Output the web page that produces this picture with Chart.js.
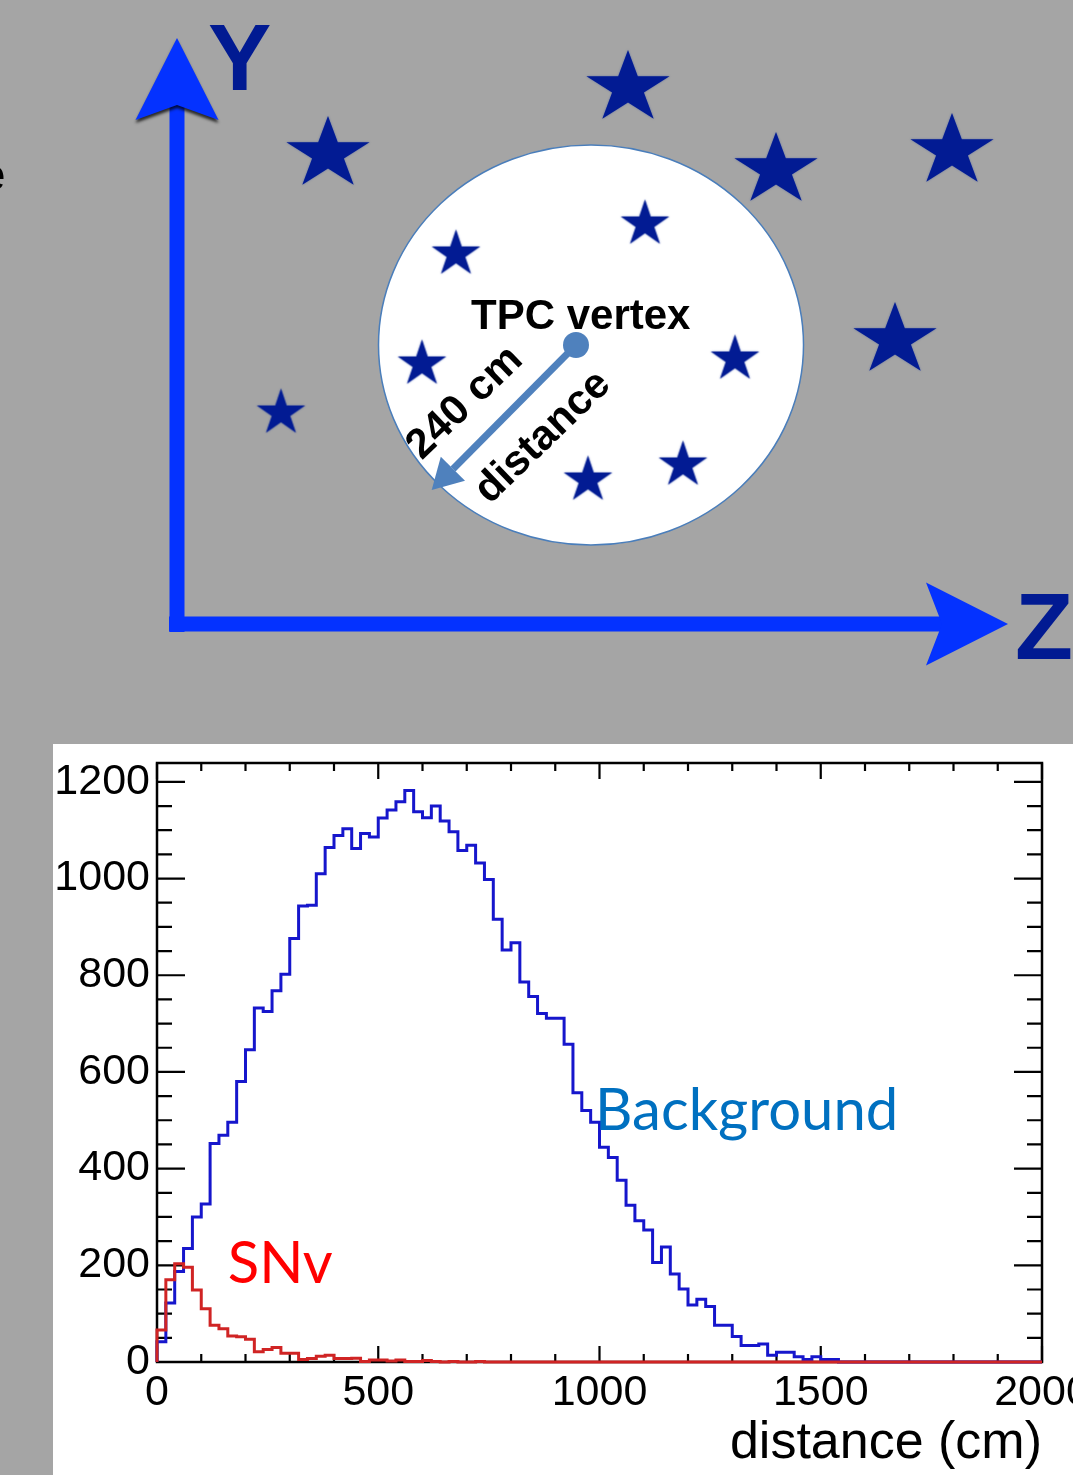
<!DOCTYPE html>
<html>
<head>
<meta charset="utf-8">
<script src="https://cdn.jsdelivr.net/npm/chart.js@4/dist/chart.umd.min.js"></script>
<style>
  html, body { margin: 0; padding: 0; width: 1073px; height: 1475px; overflow: hidden; background: #a5a5a5; }
  #diagramWrap { position: absolute; left: 0; top: 0; width: 1073px; height: 744px; }
  #histWrap { position: absolute; left: 53px; top: 744px; width: 1100px; height: 731px; background: #ffffff; }
  canvas { display: block; }
</style>
</head>
<body>
<div id="diagramWrap"><canvas id="diagram" width="1073" height="744"></canvas></div>
<div id="histWrap"><canvas id="hist" width="1100" height="731"></canvas></div>
<script>
// ================= DATA =================
// --- Histogram (bottom panel): counts per 20 cm distance bin, 0..2000 cm ---
const binWidthCm = 20;
const xTickValues = [0, 500, 1000, 1500, 2000];
const yTickValues = [0, 200, 400, 600, 800, 1000, 1200];
const backgroundCounts = [
  42, 122, 187, 235, 300, 327, 452, 469, 496, 580,
  646, 732, 725, 768, 802, 876, 943, 945, 1010, 1064,
  1089, 1103, 1062, 1093, 1086, 1125, 1142, 1159, 1182, 1138,
  1126, 1150, 1119, 1097, 1058, 1069, 1032, 998, 916, 852,
  867, 786, 756, 721, 711, 711, 657, 557, 520, 496,
  444, 423, 376, 324, 292, 273, 206, 238, 182, 151,
  118, 130, 115, 76, 76, 53, 34, 34, 37, 14,
  20, 20, 11, 5, 11, 5, 5, 0, 0, 0,
  0, 0, 0, 0, 0, 0, 0, 0, 0, 0,
  0, 0, 0, 0, 0, 0, 0, 0, 0, 0
];
const snvCounts = [
  66, 170, 203, 196, 149, 110, 76, 69, 54, 52,
  47, 21, 26, 30, 18, 18, 5, 7, 12, 14,
  7, 7, 8, 1, 4, 4, 2, 4, 1, 1,
  3, 1, 0, 1, 0, 0, 1, 0, 0, 0,
  0, 0, 0, 0, 0, 0, 0, 0, 0, 0,
  0, 0, 0, 0, 0, 0, 0, 0, 0, 0,
  0, 0, 0, 0, 0, 0, 0, 0, 0, 0,
  0, 0, 0, 0, 0, 0, 0, 0, 0, 0,
  0, 0, 0, 0, 0, 0, 0, 0, 0, 0,
  0, 0, 0, 0, 0, 0, 0, 0, 0, 0
];
const seriesNames = ['SNv', 'Background'];
const xAxisTitle = 'distance (cm)';

// --- Diagram (top panel), in the diagram's own Z / Y coordinates ---
const starZ = [451, 151, 599, 775, 718, 104, 279, 468, 245, 558, 411, 506];
const starY = [536, 470, 454, 473, 284, 211, 370, 400, 260, 265, 144, 159];
const starMagnitude = [2, 2, 2, 2, 2, 1, 1, 1, 1, 1, 1, 1];
const vertexZ = 399, vertexY = 279;
const distanceZ = [399, 276];
const distanceY = [279, 155];
const yAxisZ = [0, 0], yAxisY = [-8, 519];
const zAxisZ = [-8, 765], zAxisY = [0, 0];
const diagramLabels = ['Y', 'Z', 'TPC vertex', '240 cm', 'distance'];

// ================= STYLE HELPERS =================
Chart.defaults.font.family = "'Liberation Sans', Arial, sans-serif";
const axisBlue = '#0432ff';
const starNavy = '#021b93';
const steelBlue = '#4f81bd';

function makeStar(R, sx) {
  const w = Math.ceil(2 * R * sx + 8), h = Math.ceil(2 * R + 8);
  const c = document.createElement('canvas');
  c.width = w; c.height = h;
  const g = c.getContext('2d');
  g.translate(w / 2, h / 2);
  g.beginPath();
  for (let i = 0; i < 10; i++) {
    const r = i % 2 === 0 ? R : R * 0.382;
    const a = -Math.PI / 2 + i * Math.PI / 5;
    g.lineTo(Math.cos(a) * r * sx, Math.sin(a) * r);
  }
  g.closePath();
  g.shadowColor = 'rgba(40,70,160,0.6)';
  g.shadowBlur = 2;
  g.fillStyle = starNavy;
  g.fill();
  return c;
}
const bigStar = makeStar(38, 1.15);
const smallStar = makeStar(24.5, 1.04);

function pts(zs, ys) { return zs.map((z, i) => ({ x: z, y: ys[i] })); }

// ================= DIAGRAM CHART =================
const diagramPlugin = {
  id: 'diagramDecor',
  beforeDatasetsDraw(chart) {
    const { ctx, scales: { x, y } } = chart;
    const cx = x.getPixelForValue(414), cy = y.getPixelForValue(279);
    const rx = x.getPixelForValue(414 + 212.5) - cx;
    const ry = cy - y.getPixelForValue(279 + 200);
    ctx.save();
    ctx.beginPath();
    ctx.ellipse(cx, cy, rx, ry, 0, 0, Math.PI * 2);
    ctx.fillStyle = '#ffffff';
    ctx.fill();
    ctx.lineWidth = 1.5;
    ctx.strokeStyle = '#4a7ebb';
    ctx.stroke();
    ctx.restore();
  },
  afterDatasetsDraw(chart) {
    const { ctx, scales: { x, y } } = chart;
    const P = (z, v) => [x.getPixelForValue(z), y.getPixelForValue(v)];
    function poly(list, color, shadow) {
      ctx.save();
      if (shadow) {
        ctx.shadowColor = 'rgba(0,0,0,0.75)';
        ctx.shadowBlur = 3;
        ctx.shadowOffsetY = 3;
      }
      ctx.beginPath();
      list.forEach(([z, v], i) => { const [px, py] = P(z, v); i ? ctx.lineTo(px, py) : ctx.moveTo(px, py); });
      ctx.closePath();
      ctx.fillStyle = color;
      ctx.fill();
      ctx.restore();
    }
    // Y arrowhead
    poly([[0, 586], [41.5, 504], [0, 519], [-41.5, 504]], axisBlue, true);
    // Z arrowhead
    poly([[831, 0], [749, 41.5], [765, 0], [749, -41.5]], axisBlue, false);
    // distance arrowhead
    poly([[254.7, 134], [288, 143.3], [263.8, 167.3]], steelBlue, false);

    ctx.save();
    ctx.textBaseline = 'alphabetic';
    ctx.textAlign = 'left';
    ctx.fillStyle = '#011a92';
    ctx.font = "bold 95px 'Liberation Sans', Arial, sans-serif";
    let p = P(31, 534); ctx.fillText(diagramLabels[0], p[0], p[1]);
    p = P(838, -35); ctx.fillText(diagramLabels[1], p[0], p[1]);
    ctx.fillStyle = '#000000';
    ctx.font = "bold 42px 'Liberation Sans', Arial, sans-serif";
    p = P(294, 295); ctx.fillText(diagramLabels[2], p[0], p[1]);
    ctx.textAlign = 'center';
    ctx.textBaseline = 'middle';
    p = P(288, 221);
    ctx.save(); ctx.translate(p[0], p[1]); ctx.rotate(-44 * Math.PI / 180); ctx.fillText(diagramLabels[3], 0, 0); ctx.restore();
    p = P(366, 186.5);
    ctx.save(); ctx.translate(p[0], p[1]); ctx.rotate(-44 * Math.PI / 180); ctx.fillText(diagramLabels[4], 0, 0); ctx.restore();
    // cut-off letter at the far left edge
    ctx.textAlign = 'left';
    ctx.textBaseline = 'alphabetic';
    ctx.font = "44px 'Liberation Sans', Arial, sans-serif";
    p = P(-196, 434); ctx.fillText('e', p[0], p[1]);
    ctx.restore();
  }
};

new Chart(document.getElementById('diagram'), {
  type: 'scatter',
  data: {
    datasets: [
      { label: 'stars', data: pts(starZ, starY), pointStyle: c => (starMagnitude[c.dataIndex] === 2 ? bigStar : smallStar), pointRadius: 5, order: 0 },
      { label: 'vertex', data: [{ x: vertexZ, y: vertexY }], pointStyle: 'circle', pointRadius: 13, backgroundColor: steelBlue, borderWidth: 0, order: 1 },
      { label: 'distance', data: pts(distanceZ, distanceY), showLine: true, borderColor: steelBlue, borderWidth: 7, pointRadius: 0, order: 2 },
      { label: 'Y axis', data: pts(yAxisZ, yAxisY), showLine: true, borderColor: axisBlue, borderWidth: 15, pointRadius: 0, order: 3 },
      { label: 'Z axis', data: pts(zAxisZ, zAxisY), showLine: true, borderColor: axisBlue, borderWidth: 15, pointRadius: 0, order: 4 }
    ]
  },
  options: {
    responsive: false,
    animation: false,
    events: [],
    layout: { padding: 0, autoPadding: false },
    plugins: { legend: { display: false }, tooltip: { enabled: false } },
    scales: {
      x: { type: 'linear', min: -177, max: 896, display: false },
      y: { type: 'linear', min: -120, max: 624, display: false }
    }
  },
  plugins: [diagramPlugin]
});

// ================= HISTOGRAM CHART =================
function histogramOutline(counts) {
  const out = [{ x: 0, y: 0 }];
  counts.forEach((c, i) => {
    out.push({ x: i * binWidthCm, y: c });
    out.push({ x: (i + 1) * binWidthCm, y: c });
  });
  return out;
}

const rootFramePlugin = {
  id: 'rootFrame',
  beforeDatasetsDraw(chart) {
    const { ctx, chartArea: { left, right, top, bottom }, scales: { x, y } } = chart;
    ctx.save();
    ctx.strokeStyle = '#000';
    ctx.lineWidth = 2.5;
    ctx.strokeRect(left, top, right - left, bottom - top);
    ctx.lineWidth = 2.2;
    ctx.beginPath();
    for (let v = 0; v <= y.max; v += 50) {
      const py = y.getPixelForValue(v);
      const len = v % 200 === 0 ? 28 : 15;
      ctx.moveTo(left, py); ctx.lineTo(left + len, py);
      ctx.moveTo(right, py); ctx.lineTo(right - len, py);
    }
    for (let v = 0; v <= x.max; v += 100) {
      const px = x.getPixelForValue(v);
      const len = v % 500 === 0 ? 16 : 8;
      ctx.moveTo(px, bottom); ctx.lineTo(px, bottom - len);
      ctx.moveTo(px, top); ctx.lineTo(px, top + len);
    }
    ctx.stroke();
    ctx.restore();
  },
  afterDatasetsDraw(chart) {
    const { ctx, scales: { x, y } } = chart;
    ctx.save();
    ctx.textAlign = 'left';
    ctx.textBaseline = 'alphabetic';
    ctx.font = "58px Lato, 'Open Sans', sans-serif";
    ctx.fillStyle = '#ff0000';
    ctx.fillText(seriesNames[0], x.getPixelForValue(160), y.getPixelForValue(163));
    ctx.fillStyle = '#0070c0';
    ctx.fillText(seriesNames[1], x.getPixelForValue(990), y.getPixelForValue(480));
    ctx.restore();
  }
};

new Chart(document.getElementById('hist'), {
  type: 'line',
  data: {
    datasets: [
      { label: seriesNames[0], data: histogramOutline(snvCounts), borderColor: '#d02424', borderWidth: 3, pointRadius: 0, borderJoinStyle: 'miter', fill: false, tension: 0, clip: 6, order: 0 },
      { label: seriesNames[1], data: histogramOutline(backgroundCounts), borderColor: '#1616cc', borderWidth: 3, pointRadius: 0, borderJoinStyle: 'miter', fill: false, tension: 0, clip: 6, order: 1 }
    ]
  },
  options: {
    responsive: false,
    animation: false,
    events: [],
    layout: { padding: { top: 19, right: 111, bottom: 0, left: 0 }, autoPadding: false },
    plugins: { legend: { display: false }, tooltip: { enabled: false } },
    scales: {
      x: {
        type: 'linear', min: 0, max: 2000,
        afterBuildTicks: s => { s.ticks = xTickValues.map(v => ({ value: v })); },
        afterFit: s => { s.height = 113; s.paddingLeft = 0; s.paddingRight = 0; },
        grid: { display: false, drawTicks: false },
        border: { display: false },
        ticks: { font: { size: 43 }, color: '#000', padding: 5, maxRotation: 0, autoSkip: false, callback: v => String(v) },
        title: { display: true, text: xAxisTitle, align: 'end', color: '#000', font: { size: 52 }, padding: 0 }
      },
      y: {
        type: 'linear', min: 0, max: 1239,
        afterBuildTicks: s => { s.ticks = yTickValues.map(v => ({ value: v })); },
        afterFit: s => { s.width = 104; s.paddingTop = 0; s.paddingBottom = 0; },
        grid: { display: false, drawTicks: false },
        border: { display: false },
        ticks: { font: { size: 43 }, color: '#000', padding: 7, autoSkip: false, callback: v => String(v) }
      }
    }
  },
  plugins: [rootFramePlugin]
});
</script>
</body>
</html>
